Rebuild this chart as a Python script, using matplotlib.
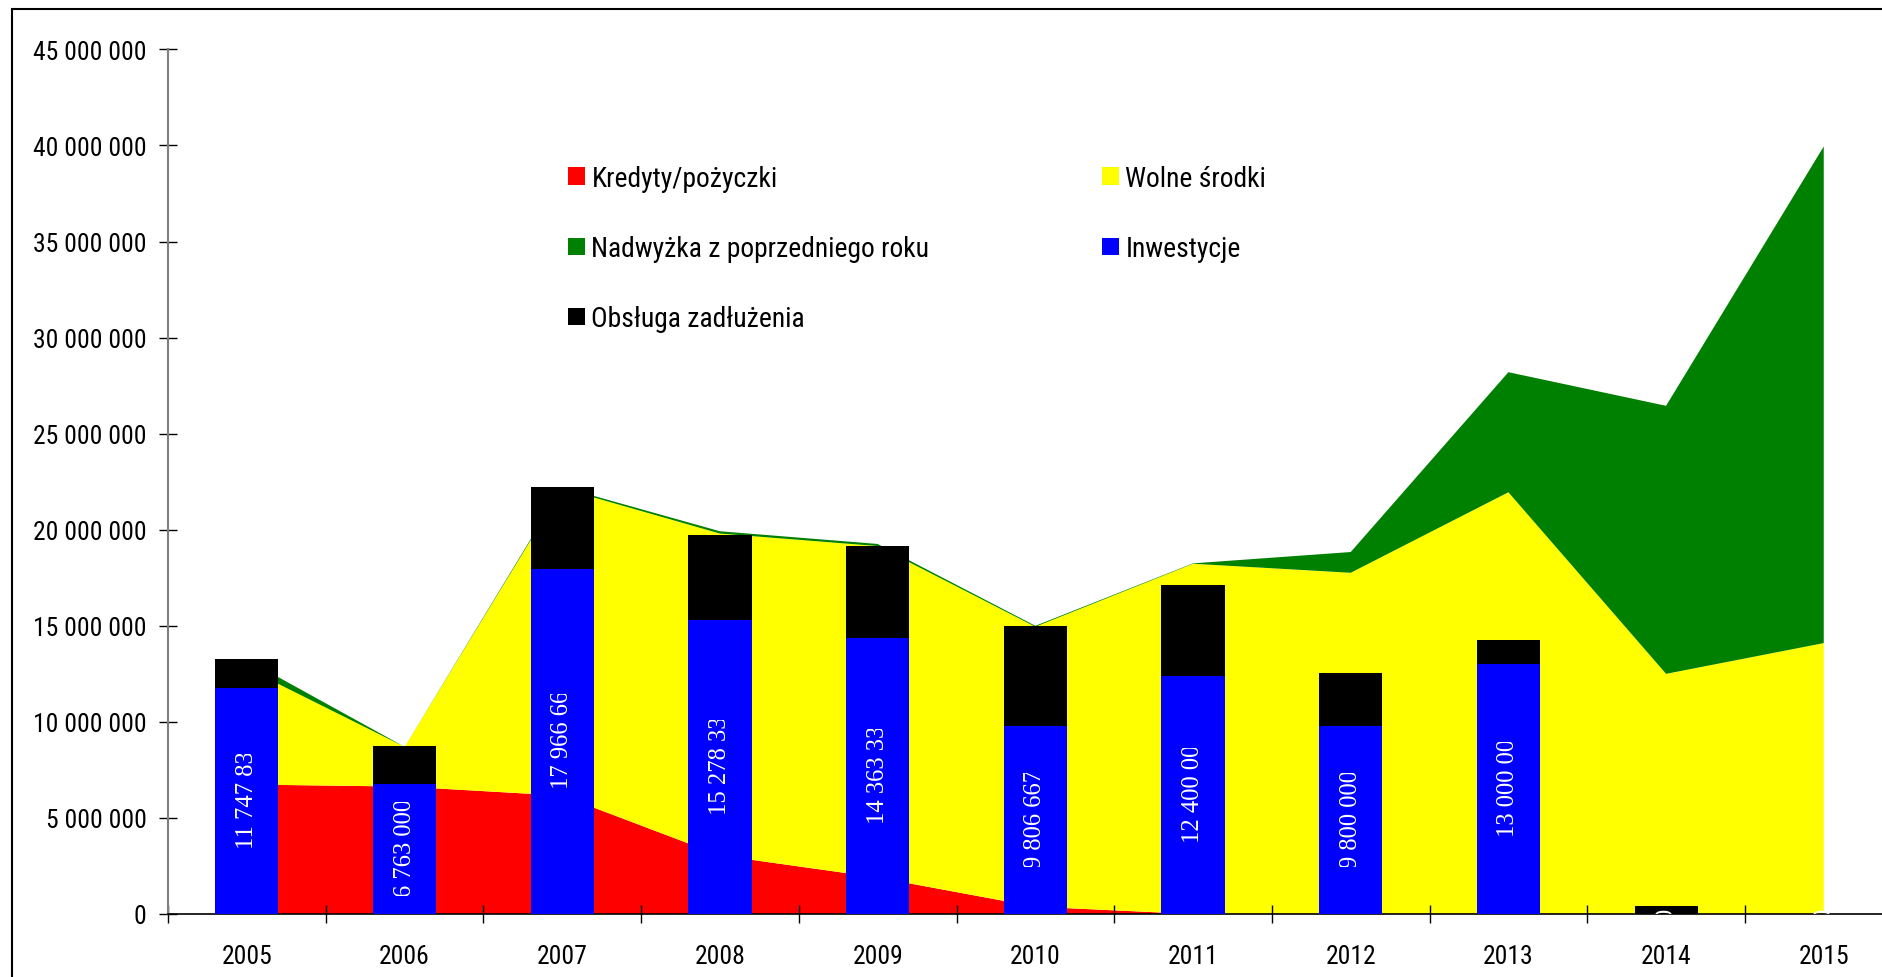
import matplotlib
matplotlib.use("Agg")
import matplotlib.pyplot as plt
from matplotlib.patches import Patch, Rectangle
from matplotlib.transforms import Bbox, TransformedBbox
from matplotlib import font_manager as fm
from matplotlib.textpath import TextToPath
import numpy as np

years = ["2005", "2006", "2007", "2008", "2009", "2010", "2011", "2012", "2013", "2014", "2015"]

# stacked areas (PLN)
kredyty = [6740000, 6630000, 6160000, 3050000, 1900000, 380000, 0, 0, 0, 0, 0]
wolne_srodki = [6050000, 2070000, 15990000, 16750000, 17250000, 14570000, 18230000, 17760000, 21950000, 12500000, 14100000]
nadwyzka = [440000, 0, 70000, 120000, 110000, 50000, 20000, 1080000, 6250000, 13950000, 25850000]

# stacked bars (PLN)
inwestycje = [11747833, 6763000, 17966667, 15278333, 14363333, 9806667, 12400000, 9800000, 13000000, 0, 0]
obsluga = [1500000, 1960000, 4270000, 4450000, 4790000, 5190000, 4740000, 2720000, 1260000, 420000, 0]

names = ["Kredyty/pożyczki", "Wolne środki", "Nadwyżka z poprzedniego roku", "Inwestycje", "Obsługa zadłużenia"]
colors = ["#FF0000", "#FFFF00", "#008000", "#0000FF", "#000000"]


def _plain(f):
    fn = f.fname.lower()
    if str(f.style) != "normal":
        return False
    if str(f.weight) not in ("400", "normal", "regular", "book"):
        return False
    return not any(k in fn for k in ("bold", "italic", "light", "oblique", "thin", "medium", "black"))


# ---- pick a narrow sans font if one is available ----
def pick_narrow():
    best = None
    prefs = ["liberationsansnarrow", "arialnarrow", "robotocondensed", "opensanscondensed",
             "notosanscondensed", "dejavusanscondensed", "condensed", "narrow"]
    for f in fm.fontManager.ttflist:
        if not _plain(f):
            continue
        key = f.fname.replace("-", "").replace("_", "").lower() + f.name.replace(" ", "").lower()
        for rank, p in enumerate(prefs):
            if p in key:
                if best is None or rank < best[0]:
                    best = (rank, f.fname)
                break
    if best:
        return fm.FontProperties(fname=best[1])
    return fm.FontProperties(family=["Liberation Sans", "DejaVu Sans"])


def pick_serif():
    for want in ("Liberation Serif", "DejaVu Serif"):
        for f in fm.fontManager.ttflist:
            if f.name == want and _plain(f):
                return fm.FontProperties(fname=f.fname)
    return fm.FontProperties(family="serif")


sans = pick_narrow()
serif = pick_serif()
serif.set_size(17.7)
_t2p = TextToPath()


def fit_size(text, prop, target_px, maxsize):
    p = prop.copy()
    p.set_size(10)
    w, h, d = _t2p.get_text_width_height_descent(text, p, ismath=False)
    size = 10 * target_px / (w * 100 / 72)
    return min(size, maxsize)


axis_fs = fit_size("45 000 000", sans, 113, 20)
leg_fs = fit_size("Nadwyżka z poprzedniego roku", sans, 339, 21.5)

W, H = 1883, 978
fig = plt.figure(figsize=(W / 100, H / 100), dpi=100)
ax = fig.add_axes([168.1 / W, 63 / H, 1734.5 / W, 864.6 / H])

x = np.arange(len(years))
ax.stackplot(x, kredyty, wolne_srodki, nadwyzka, colors=colors[:3], zorder=1, linewidth=0)
ax.bar(x, inwestycje, width=0.4, color=colors[3], zorder=3, linewidth=0)
ax.bar(x, obsluga, width=0.4, bottom=inwestycje, color=colors[4], zorder=3, linewidth=0)

L = 4.9e6
for i, v in enumerate(inwestycje):
    c = v / 2
    s = f"{v:,}".replace(",", " ")
    if v > 0:
        t = ax.text(i, c - L / 2, s, rotation=90, ha="center", va="bottom", color="white",
                    fontproperties=serif, zorder=5)
        t.set_clip_box(TransformedBbox(Bbox([[i - 0.2, c - L / 2], [i + 0.2, c + L / 2]]), ax.transData))
    else:
        t = ax.text(i, 0, s, rotation=90, ha="center", va="center", color="white",
                    fontproperties=serif, zorder=5)
        t.set_clip_box(TransformedBbox(Bbox([[i - 0.2, 0], [i + 0.2, L / 2]]), ax.transData))
    t.set_clip_on(True)

ax.set_xlim(-0.5, len(years) - 0.5)
ax.set_ylim(0, 45e6)
yt = np.arange(0, 45e6 + 1, 5e6)
ax.set_yticks(yt)
ax.set_yticklabels([f"{int(v):,}".replace(",", " ") for v in yt])
ax.set_xticks(x)
ax.set_xticklabels(years)
ax.set_xticks(np.arange(-0.5, len(years) - 0.4, 1), minor=True)
ax.tick_params(axis="x", which="major", length=0, pad=21.5)
ax.tick_params(axis="x", which="minor", direction="inout", length=13, width=1, color="black")
ax.tick_params(axis="y", direction="inout", length=13, width=1, color="black", pad=9)
for lab in ax.get_xticklabels() + ax.get_yticklabels():
    lab.set_fontproperties(sans)
    lab.set_fontsize(axis_fs)

for s in ["top", "right"]:
    ax.spines[s].set_visible(False)
ax.spines["left"].set_color("#808080")
ax.spines["left"].set_linewidth(1.5)
ax.spines["bottom"].set_color("black")
ax.spines["bottom"].set_linewidth(1.2)

handles = [Patch(facecolor=colors[i], edgecolor="none") for i in range(5)]
leg_prop = sans.copy()
leg_prop.set_size(leg_fs)
common = dict(loc="upper left", frameon=False, prop=leg_prop, handlelength=0.6, handleheight=0.6,
              handletextpad=0.25, labelspacing=1.56, borderpad=0, borderaxespad=0)
leg1 = fig.legend([handles[i] for i in (0, 2, 4)], [names[i] for i in (0, 2, 4)],
                  bbox_to_anchor=(568 / W, 1 - 166 / H), **common)
leg2 = fig.legend([handles[i] for i in (1, 3)], [names[i] for i in (1, 3)],
                  bbox_to_anchor=(1102 / W, 1 - 166 / H), **common)

fig.patches.append(Rectangle((12 / W, -0.1), 1.2, 1 - 10 / H + 0.1, transform=fig.transFigure,
                             fill=False, edgecolor="black", linewidth=1.5))

fig.savefig("out.png", dpi=100)
